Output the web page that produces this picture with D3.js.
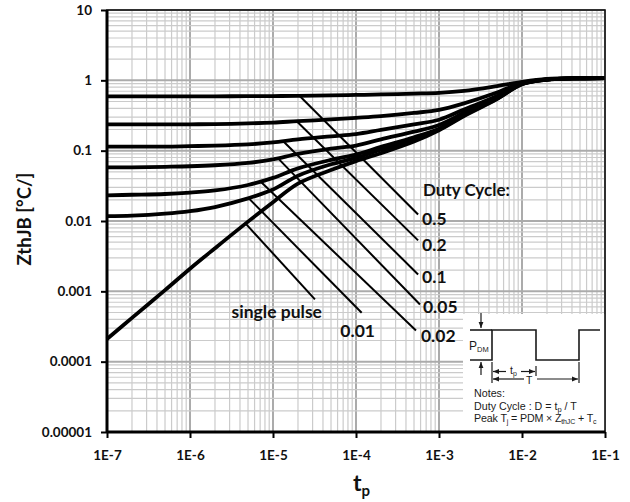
<!DOCTYPE html>
<html>
<head>
<meta charset="utf-8">
<script src="https://cdn.jsdelivr.net/npm/d3@7"></script>
<style>
  html, body { margin: 0; padding: 0; background: #fff; }
  svg { display: block; }
</style>
</head>
<body>
<svg id="chart" width="630" height="502"></svg>
<script>
// Pulse duration (s) sample points shared by all curves
const pulseTimes = [1e-7, 2e-7, 5e-7, 1e-6, 2e-6, 5e-6, 1e-5, 2e-5, 5e-5, 1e-4,
                    2e-4, 5e-4, 1e-3, 2e-3, 5e-3, 1e-2, 2e-2, 5e-2, 1e-1];

// Transient thermal impedance ZthJB (°C/W) per duty cycle
const zD050 = [0.59, 0.59, 0.59, 0.59, 0.592, 0.595, 0.598, 0.602, 0.61, 0.62,
               0.63, 0.648, 0.665, 0.71, 0.83, 0.95, 1.045, 1.075, 1.085];
const zD020 = [0.236, 0.236, 0.236, 0.237, 0.239, 0.244, 0.251, 0.263, 0.278, 0.293,
               0.31, 0.344, 0.38, 0.47, 0.67, 0.92, 1.035, 1.07, 1.08];
const zD010 = [0.114, 0.114, 0.114, 0.116, 0.118, 0.123, 0.131, 0.145, 0.16, 0.172,
               0.197, 0.236, 0.275, 0.385, 0.6, 0.9, 1.03, 1.07, 1.08];
const zD005 = [0.058, 0.058, 0.059, 0.06, 0.062, 0.067, 0.075, 0.09, 0.107, 0.118,
               0.145, 0.186, 0.232, 0.345, 0.57, 0.895, 1.028, 1.07, 1.08];
const zD002 = [0.0232, 0.0236, 0.0242, 0.0253, 0.0272, 0.0325, 0.041, 0.056, 0.074, 0.088,
               0.113, 0.155, 0.205, 0.325, 0.555, 0.89, 1.025, 1.07, 1.08];
const zD001 = [0.0117, 0.0119, 0.0127, 0.0138, 0.0158, 0.021, 0.028, 0.044, 0.064, 0.079,
               0.103, 0.145, 0.2, 0.318, 0.55, 0.885, 1.022, 1.07, 1.08];
const zSingle = [0.00021, 0.00042, 0.00104, 0.0021, 0.0041, 0.0098, 0.0185, 0.034, 0.053, 0.071,
                 0.092, 0.135, 0.195, 0.31, 0.54, 0.88, 1.02, 1.07, 1.08];

const seriesValues = [zD050, zD020, zD010, zD005, zD002, zD001, zSingle];
const seriesLabels = ["0.5", "0.2", "0.1", "0.05", "0.02", "0.01", "single pulse"];

// Leader lines: [t, Z] on the curve -> [t, Z] next to the label
const leaderStart = [[2.1e-5, 0.60], [1.93e-5, 0.262], [1.31e-5, 0.138], [1.16e-5, 0.077],
                     [6.97e-6, 0.037], [5.04e-6, 0.0213], [4.6e-6, 0.0094]];
const leaderEnd   = [[5.6e-4, 0.0124], [5.6e-4, 0.0053], [5.6e-4, 0.00174], [5.9e-4, 0.00065],
                     [5.28e-4, 0.000278], [1.17e-4, 0.000497], [3.2e-5, 0.00077]];

// Axis ticks
const xTickValues = [1e-7, 1e-6, 1e-5, 1e-4, 1e-3, 1e-2, 1e-1];
const xTickLabels = ["1E-7", "1E-6", "1E-5", "1E-4", "1E-3", "1E-2", "1E-1"];
const yTickValues = [1e-5, 1e-4, 1e-3, 1e-2, 1e-1, 1, 10];
const yTickLabels = ["0.00001", "0.0001", "0.001", "0.01", "0.1", "1", "10"];

const svg = d3.select("#chart");
const L = 107, R = 605, T = 10, B = 432;

const x = d3.scaleLog().domain([1e-7, 1e-1]).range([L, R]);
const y = d3.scaleLog().domain([1e-5, 10]).range([B, T]);

const isDecade = v => Math.abs(Math.log10(v) - Math.round(Math.log10(v))) < 1e-9;

// Grid: minor lines at 2..9 of each decade, heavier lines at decades
const grid = svg.append("g");
x.ticks().forEach(v => {
  grid.append("line")
    .attr("x1", x(v)).attr("x2", x(v)).attr("y1", T).attr("y2", B)
    .attr("stroke", isDecade(v) ? "#ababab" : "#cbcbcb")
    .attr("stroke-width", isDecade(v) ? 2 : 1.2);
});
y.ticks().forEach(v => {
  grid.append("line")
    .attr("y1", y(v)).attr("y2", y(v)).attr("x1", L).attr("x2", R)
    .attr("stroke", isDecade(v) ? "#ababab" : "#cbcbcb")
    .attr("stroke-width", isDecade(v) ? 2 : 1.2);
});

// Inset with pulse definition (sits on top of the grid, under the frame)
const ink = "#1a1a1a";
const inset = svg.append("g").attr("font-family", "Arial, 'Liberation Sans', sans-serif");
inset.append("rect").attr("x", 463).attr("y", 314).attr("width", R - 463).attr("height", B - 314 - 1).attr("fill", "#fff");
const wave = [[470, 360], [492, 360], [492, 330], [536, 330], [536, 360], [579, 360], [579, 330], [600, 330]];
inset.append("path").attr("d", d3.line()(wave)).attr("fill", "none").attr("stroke", ink).attr("stroke-width", 1.6);
inset.append("line").attr("x1", 470).attr("x2", 492).attr("y1", 330).attr("y2", 330).attr("stroke", ink).attr("stroke-width", 1.6);

const defs = svg.append("defs");
defs.append("marker").attr("id", "ah").attr("viewBox", "0 0 10 10").attr("refX", 10).attr("refY", 5)
  .attr("markerWidth", 5).attr("markerHeight", 5).attr("orient", "auto-start-reverse")
  .append("path").attr("d", "M0,1 L10,5 L0,9 z").attr("fill", ink);

function arrow(x1, y1, x2, y2) {
  inset.append("line").attr("x1", x1).attr("y1", y1).attr("x2", x2).attr("y2", y2)
    .attr("stroke", ink).attr("stroke-width", 1.2).attr("marker-end", "url(#ah)");
}
arrow(481, 313, 481, 328);
arrow(481, 375, 481, 362);
// dimension ticks
[[492, 362, 383], [536, 366, 376], [579, 362, 383]].forEach(d => {
  inset.append("line").attr("x1", d[0]).attr("x2", d[0]).attr("y1", d[1]).attr("y2", d[2])
    .attr("stroke", ink).attr("stroke-width", 1.2);
});
arrow(506, 371.5, 493, 371.5);
arrow(521, 371.5, 535, 371.5);
arrow(524, 379, 493, 379);
arrow(537, 379, 578, 379);

function insetText(xp, yp, size) {
  return inset.append("text").attr("x", xp).attr("y", yp).attr("font-size", size).attr("fill", ink);
}
const pdm = insetText(469, 350, 12);
pdm.append("tspan").text("P");
pdm.append("tspan").attr("font-size", 7.5).attr("dy", 2).text("DM");
const tpl = insetText(510, 374, 10.5);
tpl.append("tspan").text("t");
tpl.append("tspan").attr("font-size", 7).attr("dy", 2).text("p");
insetText(526, 383.5, 10.5).text("T");

insetText(474, 397, 10.7).text("Notes:");
const n2 = insetText(474, 409.5, 10.7);
n2.append("tspan").text("Duty Cycle : D = t");
n2.append("tspan").attr("font-size", 7.5).attr("dy", 2).text("p");
n2.append("tspan").attr("dy", -2).text(" / T");
const n3 = insetText(474, 422, 10.7).attr("letter-spacing", -0.15);
n3.append("tspan").text("Peak T");
n3.append("tspan").attr("font-size", 7).attr("dy", 2).text("j");
n3.append("tspan").attr("dy", -2).text(" = PDM × Z");
n3.append("tspan").attr("font-size", 7).attr("dy", 2).text("thJC");
n3.append("tspan").attr("dy", -2).text(" + T");
n3.append("tspan").attr("font-size", 7).attr("dy", 2).text("c");

// Curves
const line = d3.line().x(d => x(d[0])).y(d => y(d[1])).curve(d3.curveCatmullRom.alpha(0.5));
const curves = svg.append("g");
seriesValues.forEach(vals => {
  curves.append("path")
    .attr("d", line(pulseTimes.map((t, i) => [t, vals[i]])))
    .attr("fill", "none").attr("stroke", "#000").attr("stroke-width", 3.8)
    .attr("stroke-linejoin", "round");
});

// Leaders and labels
const fontMain = "Lato, 'Open Sans', sans-serif";
const ann = svg.append("g").attr("font-family", fontMain).attr("font-weight", "bold").attr("fill", "#111");
leaderStart.forEach((s, i) => {
  const e = leaderEnd[i];
  ann.append("line")
    .attr("x1", x(s[0])).attr("y1", y(s[1])).attr("x2", x(e[0])).attr("y2", y(e[1]))
    .attr("stroke", "#000").attr("stroke-width", 2);
});
const labelOffsets = [[4, 11, "start"], [4, 11, "start"], [4, 9, "start"], [3, 9, "start"],
                      [5, 12, "start"], [-4, 24, "middle"], [7, 19, "end"]];
seriesLabels.forEach((lab, i) => {
  const e = leaderEnd[i], o = labelOffsets[i];
  ann.append("text").attr("x", x(e[0]) + o[0]).attr("y", y(e[1]) + o[1])
    .attr("text-anchor", o[2]).attr("font-size", 17.5).text(lab);
});
ann.append("text").attr("x", 423).attr("y", 196).attr("font-size", 17).text("Duty Cycle:");

// Frame
svg.append("rect").attr("x", L).attr("y", T).attr("width", R - L).attr("height", B - T)
  .attr("fill", "none").attr("stroke", "#111").attr("stroke-width", 1.6);

// Axes
const yAxis = svg.append("g").attr("transform", `translate(${L},0)`)
  .call(d3.axisLeft(y).tickValues(yTickValues).tickFormat((d, i) => yTickLabels[i]).tickSize(6).tickPadding(9));
const xAxis = svg.append("g").attr("transform", `translate(0,${B})`)
  .call(d3.axisBottom(x).tickValues(xTickValues).tickFormat((d, i) => xTickLabels[i]).tickSize(6).tickPadding(12));
[yAxis, xAxis].forEach(g => {
  g.select(".domain").attr("stroke", "#000").attr("stroke-width", 3);
  g.selectAll(".tick line").attr("stroke", "#000").attr("stroke-width", 2);
  g.selectAll(".tick text").attr("font-family", fontMain).attr("font-weight", "bold")
    .attr("font-size", 13.5).attr("fill", "#111");
});
yAxis.select(".domain").attr("d", `M0,${T}V${B}`);
xAxis.select(".domain").attr("d", `M${L},0H${R}`);

// Axis titles
svg.append("text").attr("transform", "translate(31,219) rotate(-90)")
  .attr("text-anchor", "middle").attr("font-family", fontMain).attr("font-weight", "bold")
  .attr("font-size", 18.5).attr("fill", "#111").text("ZthJB [°C/]");
const xt = svg.append("text").attr("x", 353).attr("y", 491).attr("font-family", fontMain)
  .attr("font-weight", "bold").attr("font-size", 23).attr("fill", "#111");
xt.append("tspan").text("t");
xt.append("tspan").attr("font-size", 15).attr("dy", 5).text("p");
</script>
</body>
</html>
